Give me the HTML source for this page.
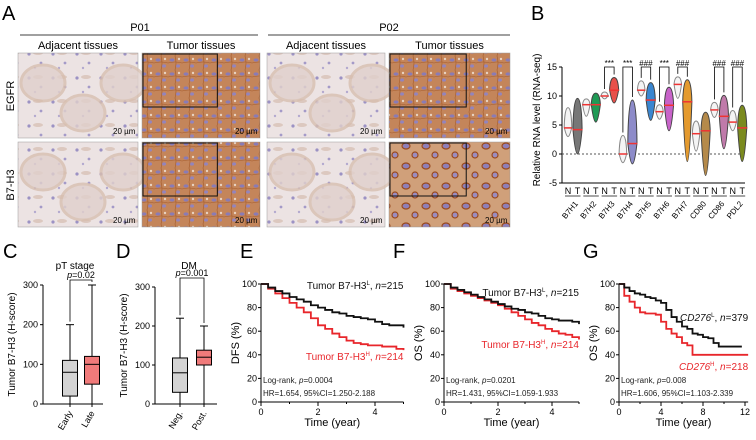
<!DOCTYPE html>
<html><head><meta charset="utf-8"><style>
body{margin:0;background:#fff}
svg{display:block;font-family:"Liberation Sans",Arial,sans-serif}
</style></head><body>
<svg id="fig" width="756" height="440" viewBox="0 0 756 440">
<defs>
<pattern id="adj" width="24" height="24" patternUnits="userSpaceOnUse">
<rect width="24" height="24" fill="#ece3e3"/>
<circle cx="5" cy="6" r="1.6" fill="#9c92c4"/><circle cx="17" cy="15" r="1.4" fill="#a49ac8"/><circle cx="11" cy="20" r="1.2" fill="#b3a9cf"/>
<ellipse cx="14" cy="5" rx="5" ry="2" fill="#dcc8bf"/>
</pattern>
<pattern id="tum" width="14" height="14" patternUnits="userSpaceOnUse">
<rect width="14" height="14" fill="#c4855a"/>
<ellipse cx="4" cy="4" rx="2.5" ry="1.6" fill="#8a7bb4"/><ellipse cx="10" cy="10" rx="2" ry="1.6" fill="#9384bc"/>
<path d="M0 7 Q7 5 14 7 M7 0 Q9 7 7 14" stroke="#a55a2a" stroke-width="0.6" fill="none"/>
<circle cx="11" cy="3" r="1.2" fill="#e8d2c0"/>
</pattern>
<pattern id="tum2" width="20" height="20" patternUnits="userSpaceOnUse">
<rect width="20" height="20" fill="#d0a07a"/>
<ellipse cx="6" cy="6" rx="4" ry="3" fill="#8f7fb8" stroke="#9a4a1e" stroke-width="1.2"/><ellipse cx="15" cy="15" rx="3" ry="3" fill="#9b8cc0" stroke="#9a4a1e" stroke-width="1.2"/>
</pattern>
</defs>
<g id="panelA"></g>
<g id="panelB"></g>
<g id="panelC"></g>
<g id="panelD"></g>
<g id="panelE"></g>
<g id="panelF"></g>
<g id="panelG"></g>
</svg>
<script>
// ---- Panel B data ----
const bGenes=["B7H1","B7H2","B7H3","B7H4","B7H5","B7H6","B7H7","CD80","CD86","PDL2"];
const bNMed=[4.5,8.5,10,0,11,7.3,12,3.5,7.6,5.5];
const bTMed=[4.2,8.5,11,1.8,9.3,8.4,9,4,6.5,4.5];
const bNMin=[3,6.5,9.5,-1.5,10,6,9.6,0.5,6.3,4];
const bNMax=[8,9.5,10.7,3.2,12.6,8.5,13.3,5.7,8.9,7.5];
const bTMin=[0,5.5,8.8,-1.7,5.8,4,-1.3,-3.7,0.9,-1.3];
const bTMax=[9.6,10.5,13.2,9.3,12.3,11.5,12.8,7.2,10.1,8.4];
const bSig=["","","***","***","###","***","###","","###","###"];
const bTicks=[15,10,5,0,-5];
// ---- Box plot data ----
const cCats=["Early","Late"];
const cMin=[0,0],cQ1=[20,50],cMed=[80,100],cQ3=[110,120],cMax=[200,300];
const dCats=["Neg.","Post."];
const dMin=[0,0],dQ1=[30,100],dMed=[80,120],dQ3=[118,138],dMax=[220,200];
const boxTicks=[0,100,200,300];
// ---- KM data ----
const eTime=[0,0.25,0.5,0.75,1,1.25,1.5,1.75,2,2.25,2.5,2.75,3,3.25,3.5,3.75,4,4.25,4.5,4.75,5];
const eLow=[100,97,94,92,89,87,85,82,80,78,76,75,73,72,71,70,68,66,65,65,63];
const eHigh=[100,96,92,88,84,80,76,71,65,62,58,55,52,50,49,48,48,47,47,45,44];
const fTime=[0,0.25,0.5,0.75,1,1.25,1.5,1.75,2,2.25,2.5,2.75,3,3.25,3.5,3.75,4,4.25,4.5,4.75,5];
const fLow=[100,97,95,93,91,89,87,85,83,81,79,78,76,75,73,71,70,69,69,68,66];
const fHigh=[100,96,94,92,90,88,86,84,82,79,76,73,70,67,65,62,60,58,57,55,53];
const gTimeL=[0,0.5,1,1.5,2,2.5,3,3.5,4,4.5,5,5.5,6,6.5,7,7.5,8,8.5,9,9.5,10,10.5,11,11.7];
const gLow=[100,97,94,92,91,89,88,86,84,78,72,68,64,62,58,57,55,54,50,47,47,47,47,47];
const gTimeH=[0,0.5,1,1.5,2,2.5,3,3.5,4,4.5,5,5.5,6,6.5,7,8,9,10,11,12.3];
const gHigh=[100,90,85,80,76,75,75,74,68,62,58,55,50,48,40,40,40,40,40,40];
const survTicks=[0,20,40,60,80,100];

const NS="http://www.w3.org/2000/svg";
function mk(parent,tag,attrs,text){const e=document.createElementNS(NS,tag);for(const k in attrs)e.setAttribute(k,attrs[k]);if(text!==undefined)e.textContent=text;parent.appendChild(e);return e;}
function txt(p,x,y,s,size,opt){opt=opt||{};const t=mk(p,'text',{x:x,y:y,'font-size':size,'text-anchor':opt.a||'start',fill:opt.fill||'#000'});if(opt.rot)t.setAttribute('transform',`rotate(${opt.rot} ${x} ${y})`);if(opt.style)t.setAttribute('font-style',opt.style);t.textContent=s;return t;}

// ---- Panel A ----
const A=document.getElementById('panelA');
let t=txt(A,2,20,'A',20);
txt(A,140,31,'P01',11,{a:'middle'});txt(A,389,31,'P02',11,{a:'middle'});
mk(A,'line',{x1:20,y1:35,x2:258,y2:35,stroke:'#000','stroke-width':0.8});
mk(A,'line',{x1:268,y1:35,x2:510,y2:35,stroke:'#000','stroke-width':0.8});
const colX=[18,142,267,389],colW=[120,118,118,121],rowY=[53,142];
const colT=["Adjacent tissues","Tumor tissues","Adjacent tissues","Tumor tissues"];
colX.forEach((x,i)=>txt(A,x+colW[i]/2,49,colT[i],11,{a:'middle'}));
txt(A,14,96,'EGFR',11,{a:'middle',rot:-90});txt(A,14,185,'B7-H3',11,{a:'middle',rot:-90});
for(let r=0;r<2;r++)for(let c=0;c<4;c++){
 const g=mk(A,'g',{});
 
 
 const x=colX[c],y=rowY[r],w=colW[c],h=85;
 const fill=(c%2===0)?'url(#adj)':(r===1&&c===3?'url(#tum2)':'url(#tum)');
 mk(g,'rect',{x:x,y:y,width:w,height:h,fill:fill,stroke:'#999','stroke-width':0.5});
 if(c%2===0){for(let k=0;k<3;k++)mk(g,'ellipse',{cx:x+25+k*40,cy:y+30+(k%2)*30,rx:22,ry:18,fill:'#e0d0cc',stroke:'#d8bfb0','stroke-width':3,opacity:0.8});}
 else{mk(g,'rect',{x:x+1,y:y+1,width:w*0.63,height:53,fill:'none',stroke:'#111','stroke-width':1});}
 txt(g,x+w-25,y+h-4,'20 µm',8);
}
// ---- Panel B ----
const B=document.getElementById('panelB');
txt(B,531,20,'B',20);
const bx0=562,by=v=>154-v*5.8,bNx=i=>568+i*18.3,bTx=i=>577.5+i*18.3;
mk(B,'line',{x1:bx0,y1:by(15),x2:bx0,y2:by(-5),stroke:'#000'});
mk(B,'line',{x1:bx0,y1:by(-5),x2:745,y2:by(-5),stroke:'#000'});
bTicks.forEach(v=>{mk(B,'line',{x1:bx0-3,y1:by(v),x2:bx0,y2:by(v),stroke:'#000'});txt(B,bx0-5,by(v)+3,String(v),9,{a:'end'});});
mk(B,'line',{x1:bx0,y1:by(0),x2:745,y2:by(0),stroke:'#555','stroke-dasharray':'2 2'});
txt(B,540,120,'Relative RNA level (RNA-seq)',10,{a:'middle',rot:-90});
const tCol=["#777","#1f9a55","#e8504a","#8d8bc9","#3a86d0","#c863c9","#e49a2e","#b58a4a","#c07aaa","#7a8a1e"];
function violin(cx,mn,mx,md,w,fill,stroke){
 const d=`M${cx} ${by(mx)} C${cx+w} ${by(mx)} ${cx+w} ${by(md)+2} ${cx+w} ${by(md)} C${cx+w} ${by(md)-2} ${cx+w*0.6} ${by(mn)} ${cx} ${by(mn)} C${cx-w*0.6} ${by(mn)} ${cx-w} ${by(md)-2} ${cx-w} ${by(md)} C${cx-w} ${by(md)+2} ${cx-w} ${by(mx)} ${cx} ${by(mx)}Z`;
 return mk(B,'path',{d:d,fill:fill,stroke:stroke,'stroke-width':1});
}
bGenes.forEach((gname,i)=>{
 let v=violin(bNx(i),bNMin[i],bNMax[i],bNMed[i],3.8,'#f4f4f4','#888');
 
 
 v=violin(bTx(i),bTMin[i],bTMax[i],bTMed[i],4.6,tCol[i],'#444');
 
 
 mk(B,'line',{x1:bNx(i)-4,y1:by(bNMed[i]),x2:bNx(i)+4,y2:by(bNMed[i]),stroke:'#e33','stroke-width':1.5});
 mk(B,'line',{x1:bTx(i)-5,y1:by(bTMed[i]),x2:bTx(i)+5,y2:by(bTMed[i]),stroke:'#e33','stroke-width':1.5});
 txt(B,bNx(i),194,'N',9,{a:'middle'});txt(B,bTx(i),194,'T',9,{a:'middle'});
 mk(B,'line',{x1:bNx(i)-3,y1:196,x2:bTx(i)+3,y2:196,stroke:'#000','stroke-width':0.7});
 txt(B,bTx(i)+1,204,gname,8,{a:'end',rot:-50});
 if(bSig[i]){const top=by(15);
  mk(B,'path',{d:`M${bNx(i)} ${by(bNMax[i])-3} V${top} H${bTx(i)} V${by(bTMax[i])-3}`,fill:'none',stroke:'#000','stroke-width':0.8});
  txt(B,(bNx(i)+bTx(i))/2,top-1,bSig[i],8,{a:'middle'});}
});
// ---- Box plots ----
function boxPanel(id,x0,axEnd,y0,yTop,cats,cx,mn,q1,md,q3,mx,cols,title,titleX,letter,letterX,pTxt,pY){
 const P=document.getElementById(id);
 const sy=v=>y0-(v/300)*(y0-yTop);
 txt(P,letterX,258,letter,20);
 txt(P,titleX,269,title,10,{a:'middle'});
 mk(P,'line',{x1:x0,y1:sy(300),x2:x0,y2:sy(0),stroke:'#000'});
 mk(P,'line',{x1:x0,y1:sy(0),x2:axEnd,y2:sy(0),stroke:'#000'});
 boxTicks.forEach(v=>{mk(P,'line',{x1:x0-3,y1:sy(v),x2:x0,y2:sy(v),stroke:'#000'});txt(P,x0-5,sy(v)+3,String(v),9,{a:'end'});});
 txt(P,x0-28,sy(150),'Tumor B7-H3 (H-score)',10,{a:'middle',rot:-90});
 cats.forEach((c,i)=>{
  const g=mk(P,'g',{});
  
  
  mk(g,'line',{x1:cx[i],y1:sy(mx[i]),x2:cx[i],y2:sy(mn[i]),stroke:'#000'});
  mk(g,'line',{x1:cx[i]-4,y1:sy(mx[i]),x2:cx[i]+4,y2:sy(mx[i]),stroke:'#000'});
  mk(g,'rect',{x:cx[i]-7.5,y:sy(q3[i]),width:15,height:sy(q1[i])-sy(q3[i]),fill:cols[i],stroke:'#000'});
  mk(g,'line',{x1:cx[i]-7.5,y1:sy(md[i]),x2:cx[i]+7.5,y2:sy(md[i]),stroke:'#000'});
  mk(g,'line',{x1:cx[i],y1:sy(0),x2:cx[i],y2:sy(0)+3,stroke:'#000'});
  txt(g,cx[i]+3,sy(0)+9,c,9,{a:'end',rot:-60});
 });
 mk(P,'path',{d:`M${cx[0]} ${sy(mx[0])-3} V${pY} H${cx[1]} V${sy(mx[1])-3}`,fill:'none',stroke:'#000','stroke-width':0.8});
 const tt=mk(P,'text',{x:(cx[0]+cx[1])/2,y:pY-2,'font-size':9,'text-anchor':'middle'});
 mk(tt,'tspan',{'font-style':'italic'},'p');mk(tt,'tspan',{},pTxt);
}
boxPanel('panelC',43,103,404,285,cCats,[70,92],cMin,cQ1,cMed,cQ3,cMax,['#d3d3d3','#f07a7a'],'pT stage',75,'C',3,'=0.02',280);
boxPanel('panelD',155,217,404,287,dCats,[180,204],dMin,dQ1,dMed,dQ3,dMax,['#d3d3d3','#f07a7a'],'DM',189,'D',116,'=0.001',278);
// ---- KM ----
function km(id,x0,pxYear,maxT,tickStep,y0,yTop,letter,letterX,ylab,lows,highs,lowT,highT,lowLab,highLab,lowLabY,highLabY,lrTxt,hrTxt){
 const P=document.getElementById(id);
 const sx=v=>x0+v*pxYear,sy=v=>y0-v/100*(y0-yTop);
 txt(P,letterX,258,letter,20);
 mk(P,'line',{x1:x0,y1:sy(100),x2:x0,y2:sy(0),stroke:'#000'});
 mk(P,'line',{x1:x0,y1:sy(0),x2:sx(maxT),y2:sy(0),stroke:'#000'});
 survTicks.forEach(v=>{mk(P,'line',{x1:x0-3,y1:sy(v),x2:x0,y2:sy(v),stroke:'#000'});txt(P,x0-4,sy(v)+3,String(v),9,{a:'end'});});
 for(let v=0;v<=maxT+1e-6;v+=tickStep/2){const major=Math.abs((v/tickStep)-Math.round(v/tickStep))<1e-6;mk(P,'line',{x1:sx(v),y1:sy(0),x2:sx(v),y2:sy(0)+(major?4:2),stroke:'#000'});if(major)txt(P,sx(v),sy(0)+13,String(v),9,{a:'middle'});}
 txt(P,(x0+sx(maxT))/2,sy(0)+24,'Time (year)',11,{a:'middle'});
 txt(P,x0-22,sy(50),ylab,11,{a:'middle',rot:-90});
 function step(ts,vs,col,name){let d=`M${sx(ts[0])} ${sy(vs[0])}`;for(let i=1;i<ts.length;i++){d+=` H${sx(ts[i])} V${sy(vs[i])}`;}
  const p=mk(P,'path',{d:d,fill:'none',stroke:col,'stroke-width':1.8});
  
  }
 step(highT,highs,'#e8262b','km-curve-high');
 step(lowT,lows,'#111','km-curve-low');
 const l1=mk(P,'text',{x:sx(maxT),y:lowLabY,'font-size':10,'text-anchor':'end',fill:'#111'});
 lowLab.forEach(s=>{mk(l1,'tspan',s[1]||{},s[0]);});
 const l2=mk(P,'text',{x:sx(maxT),y:highLabY,'font-size':10,'text-anchor':'end',fill:'#e8262b'});
 highLab.forEach(s=>{mk(l2,'tspan',s[1]||{},s[0]);});
 const lr=mk(P,'text',{x:x0+2,y:sy(16),'font-size':8,fill:'#222'});mk(lr,'tspan',{},'Log-rank, ');mk(lr,'tspan',{'font-style':'italic'},'p');mk(lr,'tspan',{},lrTxt);
 txt(P,x0+2,sy(5),hrTxt,8,{fill:'#222'});
}
const sup={'font-size':6,dy:-4},back={dy:4},it={'font-style':'italic'};
km('panelE',261,28.5,5,2,402,284,'E',240,'DFS (%)',eLow,eHigh,eTime,eTime,
 [['Tumor B7-H3'],['L',sup],[', ',back],['n',it],['=215']],[['Tumor B7-H3'],['H',sup],[', ',back],['n',it],['=214']],289,360,'=0.0004','HR=1.654, 95%CI=1.250-2.188');
km('panelF',444,27,5,2,402,284,'F',393,'OS (%)',fLow,fHigh,fTime,fTime,
 [['Tumor B7-H3'],['L',sup],[', ',back],['n',it],['=215']],[['Tumor B7-H3'],['H',sup],[', ',back],['n',it],['=214']],296,348,'=0.0201','HR=1.431, 95%CI=1.059-1.933');
km('panelG',619,10.5,12.3,4,402,284,'G',583,'OS (%)',gLow,gHigh,gTimeL,gTimeH,
 [['CD276',it],['L',sup],[', ',back],['n',it],['=379']],[['CD276',it],['H',sup],[', ',back],['n',it],['=218']],321,370,'=0.008','HR=1.606, 95%CI=1.103-2.339');
</script>
</body></html>
